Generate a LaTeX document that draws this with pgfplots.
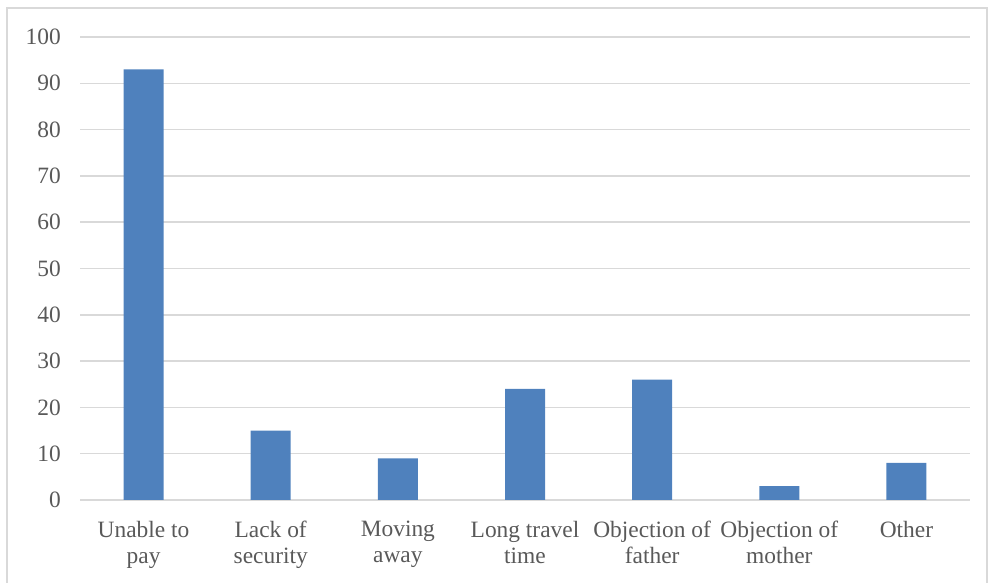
\documentclass[border=0pt]{standalone}
\usepackage{pgfplots}
\pgfplotsset{compat=1.18}
\usepackage{fontspec}
\setmainfont{Liberation Serif}
\definecolor{barblue}{HTML}{4F81BD}
\definecolor{gridgray}{HTML}{D9D9D9}
\definecolor{textgray}{HTML}{595959}
\begin{document}
\begin{tikzpicture}[x=1bp,y=1bp]
\path[use as bounding box] (0,0) rectangle (989,583);
% chart frame
\draw[gridgray, line width=1.5bp] (7,-5) -- (7,575) -- (987,575) -- (987,-5);
\begin{axis}[
  at={(80bp,83bp)}, anchor=south west,
  scale only axis, width=890bp, height=463bp,
  xmin=-0.5, xmax=6.5, ymin=0, ymax=100,
  ytick={0,10,...,100},
  xtick={0,...,6},
  xticklabels={Unable to\\pay, Lack of\\security, Moving\\away, Long travel\\time, Objection of\\father, Objection of\\mother, Other},
  axis x line*=bottom, axis y line*=left,
  x axis line style={gridgray, line width=1.5bp},
  y axis line style={draw=none},
  major tick length=0pt,
  ymajorgrids,
  major grid style={gridgray, line width=1.5bp},
  /pgf/number format/assume math mode=true,
  tick label style={font=\fontsize{23.5}{26}\selectfont, text=textgray, inner sep=0pt},
  yticklabel style={anchor=east},
  yticklabel shift=19bp,
  xticklabel style={align=center, anchor=north},
  xticklabel shift=21bp,
  ybar, bar width=40bp,
]
\addplot[fill=barblue, draw=none] coordinates {
  (0,93) (1,15) (2,9) (3,24) (4,26) (5,3) (6,8)
};
\end{axis}
\end{tikzpicture}
\end{document}
